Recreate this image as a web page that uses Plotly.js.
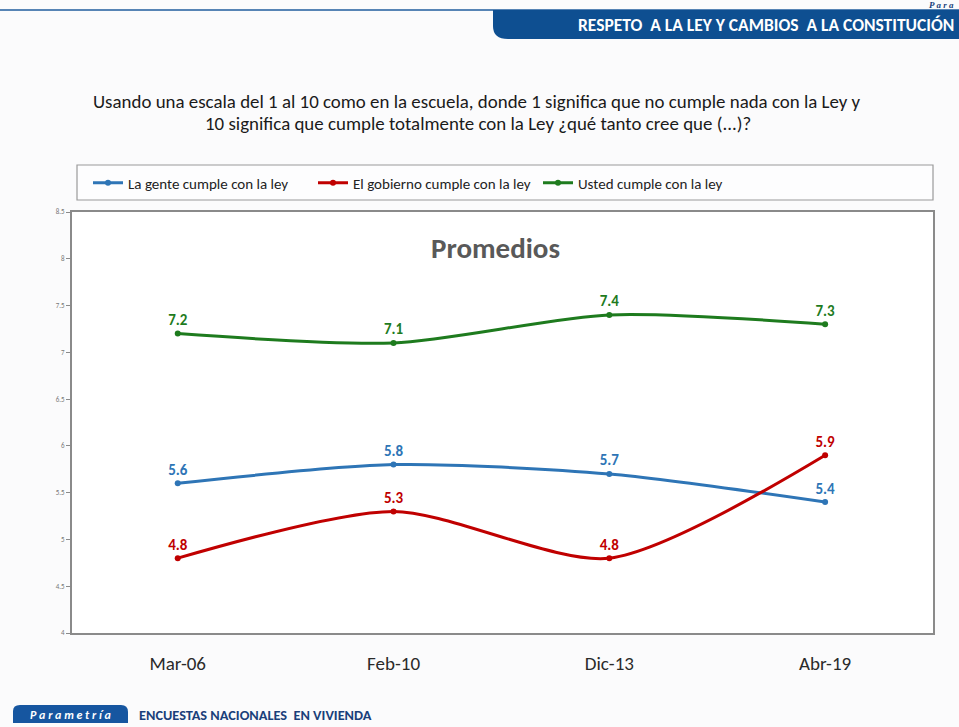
<!DOCTYPE html>
<html>
<head>
<meta charset="utf-8">
<script src="https://cdn.plot.ly/plotly-3.0.1.min.js"></script>
<style>
html,body{margin:0;padding:0;background:#fbfbfc;}
#chart{width:959px;height:727px;}
</style>
</head>
<body>
<div id="chart"></div>
<script>
// ---- data ----
var categories = ["Mar-06", "Feb-10", "Dic-13", "Abr-19"];
var seriesNames = ["La gente cumple con la ley", "El gobierno cumple con la ley", "Usted cumple con la ley"];
var genteValues = [5.6, 5.8, 5.7, 5.4];
var gobiernoValues = [4.8, 5.3, 4.8, 5.9];
var ustedValues = [7.2, 7.1, 7.4, 7.3];
var yTickValues = [4, 4.5, 5, 5.5, 6, 6.5, 7, 7.5, 8, 8.5];
var yTickLabels = ["4", "4.5", "5", "5.5", "6", "6.5", "7", "7.5", "8", "8.5"];
var questionLines = [
  "Usando una escala del 1 al 10 como en la escuela, donde 1 significa que no cumple nada con la Ley y",
  "10 significa que cumple totalmente con la Ley ¿qué tanto cree que (...)?"
];
var chartLabel = "Promedios";
var headerText = "RESPETO  A LA LEY Y CAMBIOS  A LA CONSTITUCIÓN";
var footerBrand = "P a r a m e t r í a";
var footerText = "ENCUESTAS NACIONALES  EN VIVIENDA";
var cornerText = "P a r a";

// ---- layout geometry ----
var W = 959, H = 727;
var L = 72, R = 933, T = 212, B = 633;
function px(x){ return (x - L) / (R - L); }
function py(y){ return (B - y) / (B - T); }

var FONT = "Carlito, 'Liberation Sans Narrow', 'Liberation Sans', Arial, sans-serif";
var colors = ["#2E75B6", "#C00000", "#1E7B1E"];
var values = [genteValues, gobiernoValues, ustedValues];

var traces = values.map(function(v, i){
  return {
    type: "scatter",
    mode: "lines+markers+text",
    name: seriesNames[i],
    x: categories,
    y: v,
    text: v.map(function(d){ return "<b>" + d.toFixed(1) + "</b>"; }),
    textposition: "top center",
    textfont: {family: FONT, size: 15, color: colors[i]},
    line: {color: colors[i], width: 3, shape: "spline", smoothing: 0.75},
    marker: {color: colors[i], size: 6},
    cliponaxis: false,
    hoverinfo: "skip"
  };
});

var shapes = [
  {type: "line", xref: "paper", yref: "paper", x0: px(0), x1: px(W), y0: py(10), y1: py(10),
   line: {color: "#1f5d9e", width: 1.5}, layer: "below"},
  {type: "path", xref: "paper", yref: "paper",
   path: "M " + px(493) + "," + py(10) + " L " + px(W) + "," + py(10) + " L " + px(W) + "," + py(39) +
         " L " + px(508) + "," + py(39) + " Q " + px(493) + "," + py(39) + " " + px(493) + "," + py(26) + " Z",
   fillcolor: "#0E4F91", line: {width: 0}, layer: "below"},
  {type: "rect", xref: "paper", yref: "paper", x0: px(77), x1: px(933), y0: py(200), y1: py(165),
   line: {color: "#9a9a9a", width: 1.2}, fillcolor: "rgba(255,255,255,0.6)", layer: "below"},
  {type: "path", xref: "paper", yref: "paper",
   path: "M " + px(13) + "," + py(723) + " L " + px(13) + "," + py(711) + " Q " + px(13) + "," + py(705) + " " + px(20) + "," + py(705) +
         " L " + px(121) + "," + py(705) + " Q " + px(128) + "," + py(705) + " " + px(128) + "," + py(712) +
         " L " + px(128) + "," + py(723) + " Z",
   fillcolor: "#1656A0", line: {width: 0}, layer: "below"}
];

var annotations = [
  {text: questionLines[0], xref: "paper", yref: "paper", x: px(477), y: py(101), xanchor: "center", yanchor: "middle",
   showarrow: false, font: {family: FONT, size: 18.9, color: "#1a1a1a"}},
  {text: questionLines[1], xref: "paper", yref: "paper", x: px(478), y: py(124), xanchor: "center", yanchor: "middle",
   showarrow: false, font: {family: FONT, size: 18.9, color: "#1a1a1a"}},
  {text: "<b>" + chartLabel + "</b>", xref: "paper", yref: "paper", x: px(495), y: py(248), xanchor: "center", yanchor: "middle",
   showarrow: false, font: {family: FONT, size: 29, color: "#595959"}},
  {text: "<b>" + headerText + "</b>", xref: "paper", yref: "paper", x: px(576), y: py(25), xanchor: "left", yanchor: "middle",
   showarrow: false, font: {family: FONT, size: 17.5, color: "#ffffff"}},
  {text: "<b><i>" + cornerText + "</i></b>", xref: "paper", yref: "paper", x: px(956), y: py(5), xanchor: "right", yanchor: "middle",
   showarrow: false, font: {family: "'Liberation Serif', serif", size: 9, color: "#1a3f7a"}},
  {text: "<b><i>" + footerBrand + "</i></b>", xref: "paper", yref: "paper", x: px(70), y: py(715), xanchor: "center", yanchor: "middle",
   showarrow: false, font: {family: FONT, size: 12, color: "#ffffff"}},
  {text: "<b>" + footerText + "</b>", xref: "paper", yref: "paper", x: px(137), y: py(715), xanchor: "left", yanchor: "middle",
   showarrow: false, font: {family: FONT, size: 14.3, color: "#1a3f7a"}}
];

var layout = {
  width: W, height: H,
  margin: {l: L, r: W - R, t: T, b: H - B, pad: 0},
  paper_bgcolor: "#fbfbfc",
  plot_bgcolor: "#ffffff",
  showlegend: true,
  legend: {
    orientation: "h", x: px(88), xanchor: "left", y: py(183), yanchor: "middle",
    font: {family: FONT, size: 15, color: "#222"}, bgcolor: "rgba(0,0,0,0)", borderwidth: 0,
    itemwidth: 30, entrywidth: 180, entrywidthmode: "pixels"
  },
  xaxis: {
    type: "category", range: [-0.49, 3.5],
    showgrid: false, zeroline: false,
    showline: true, linecolor: "#8a8a8a", linewidth: 2, mirror: true,
    ticks: "", ticklabelstandoff: 12,
    tickfont: {family: FONT, size: 19, color: "#2a2a2a"}
  },
  yaxis: {
    range: [4, 8.5], tickvals: yTickValues, ticktext: yTickLabels,
    showgrid: false, zeroline: false,
    showline: true, linecolor: "#8a8a8a", linewidth: 2, mirror: true,
    ticks: "outside", ticklen: 4, tickcolor: "#8a8a8a", tickwidth: 1,
    tickfont: {family: FONT, size: 7, color: "#777"}
  },
  shapes: shapes,
  annotations: annotations
};

Plotly.newPlot("chart", traces, layout, {displayModeBar: false, staticPlot: true});
</script>
</body>
</html>
